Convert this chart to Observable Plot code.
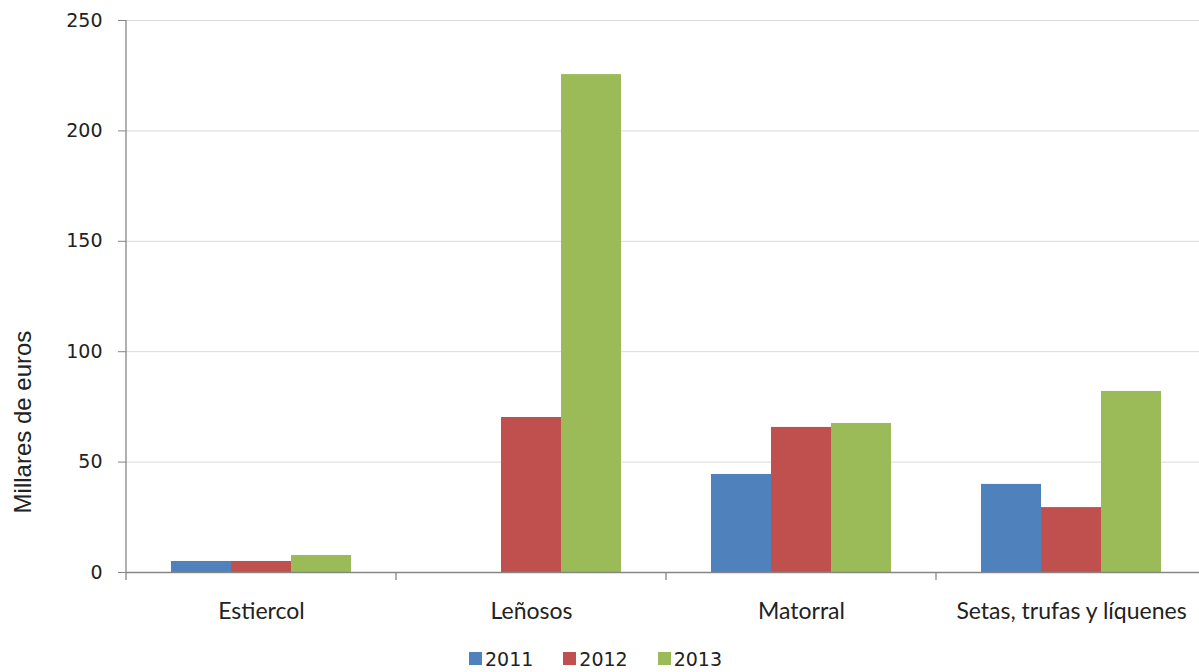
<!DOCTYPE html>
<html>
<head>
<meta charset="utf-8">
<script src="https://cdn.jsdelivr.net/npm/d3@7"></script>
<script src="https://cdn.jsdelivr.net/npm/@observablehq/plot@0.6"></script>
<style>
  html, body { margin: 0; padding: 0; background: #fff; overflow: hidden; }
  #chart { width: 1199px; height: 645px; overflow: hidden; }
  #legend { height: 27px; display: flex; justify-content: center; align-items: center; font-family: "DejaVu Sans", sans-serif; font-size: 19px; line-height: 22px; color: #222; margin-left: -8px; }
  .item { display: flex; align-items: center; margin: 0 15px; }
  .sw { width: 13px; height: 13px; margin-right: 3px; }
</style>
</head>
<body>
<div id="chart"></div>
<div id="legend"></div>
<script>
const categories = ["Estiercol", "Leñosos", "Matorral", "Setas, trufas y líquenes"];
const years = ["2011", "2012", "2013"];
const v2011 = [5, 0, 44.4, 39.9];
const v2012 = [5, 70.2, 65.7, 29.4];
const v2013 = [7.7, 225.5, 67.5, 82];
const yTicks = [0, 50, 100, 150, 200, 250];
const colors = ["#4f81bd", "#c0504d", "#9bbb59"];
const yLabel = "Millares de euros";

const series = [v2011, v2012, v2013];
const data = [];
categories.forEach((c, i) => years.forEach((yr, j) => data.push({category: c, year: yr, value: series[j][i]})));

const plot = Plot.plot({
  width: 1199,
  height: 645,
  marginTop: 20,
  marginBottom: 73,
  marginLeft: 126,
  marginRight: -7,
  style: {fontFamily: "DejaVu Sans, sans-serif", fontSize: "19px", color: "#222", background: "#fff"},
  fx: {domain: categories, padding: 0, label: null},
  x: {domain: years, paddingInner: 0, paddingOuter: 0.75, axis: null},
  y: {domain: [0, 250], label: null},
  color: {domain: years, range: colors},
  marks: [
    Plot.gridY(yTicks, {stroke: "#d9d9d9", strokeOpacity: 1}),
    Plot.barY(data, {fx: "category", x: "year", y: "value", fill: "year", inset: 0}),
    Plot.ruleY([0], {stroke: "#868686", strokeWidth: 1.3}),
    Plot.axisY(yTicks, {tickSize: 8, tickPadding: 16, stroke: "#868686", label: null, fontSize: 19, fill: "#222"}),
    Plot.axisFx({anchor: "bottom", tickSize: 0, tickPadding: 30, fontFamily: "Lato, sans-serif", fontSize: 23, fill: "#222", label: null})
  ]
});

document.getElementById("chart").appendChild(plot);

// axis line and category boundary ticks derived from Plot's scales
const svg = d3.select(plot.tagName.toLowerCase() === "svg" ? plot : plot.querySelector("svg"));
const fxS = plot.scale("fx");
const yS = plot.scale("y");
const band = d3.scaleBand().domain(fxS.domain).range(fxS.range)
  .paddingInner(fxS.paddingInner || 0).paddingOuter(fxS.paddingOuter || 0).align(fxS.align ?? 0.5);
const y0 = yS.range[0], yTop = yS.range[1];
const bounds = categories.map(c => band(c)).concat([band(categories[categories.length - 1]) + band.bandwidth()]);
const g = svg.append("g").attr("stroke", "#868686").attr("stroke-width", 1.3);
g.append("line").attr("x1", bounds[0]).attr("x2", bounds[0]).attr("y1", yTop).attr("y2", y0);
bounds.forEach(b => g.append("line").attr("x1", b).attr("x2", b).attr("y1", y0).attr("y2", y0 + 8));
svg.append("text")
  .attr("transform", `translate(23,${(y0 + yTop) / 2 + 126}) rotate(-90)`)
  .attr("text-anchor", "middle").attr("dy", "0.35em")
  .attr("font-family", "Liberation Sans, Arial, sans-serif").attr("font-size", 24).attr("fill", "#222")
  .text(yLabel);

// legend
const leg = d3.select("#legend");
years.forEach((yr, i) => {
  const it = leg.append("div").attr("class", "item");
  it.append("div").attr("class", "sw").style("background", colors[i]);
  it.append("span").text(yr);
});
</script>
</body>
</html>
